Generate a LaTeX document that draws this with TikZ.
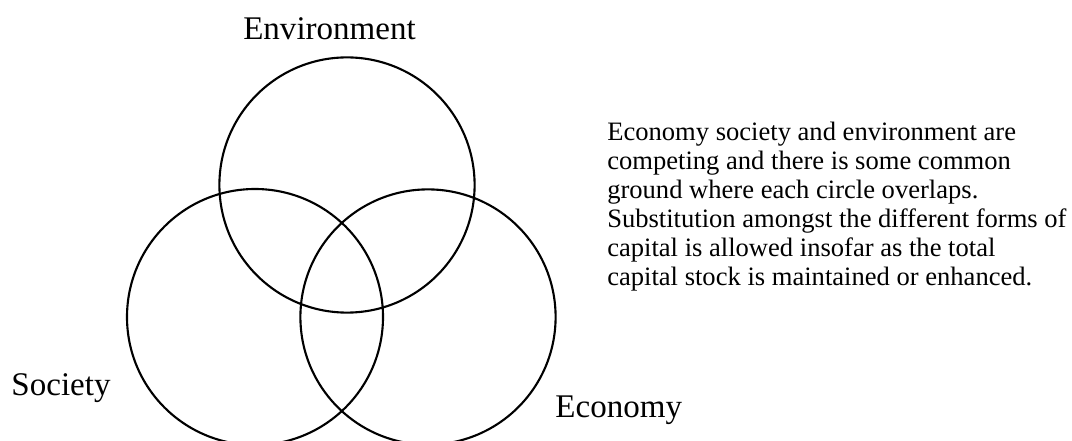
\documentclass[tikz,border=0pt]{standalone}
\usepackage{fontspec}
\setmainfont{Liberation Serif}

\begin{document}
\begin{tikzpicture}[
    ring/.style={line width=1.5pt},
    lbl/.style={font=\fontsize{23.5}{28}\selectfont, inner sep=0pt, anchor=base west},
    note/.style={font=\fontsize{18.9}{20.7}\selectfont, inner sep=0pt, align=left, anchor=north west}
]
        \useasboundingbox (0,0) rectangle (26.8,11);

        \coordinate (E) at (8.675,6.375);
        \coordinate (S) at (6.375,3.075);
        \coordinate (C) at (10.7,3.075);

        \draw[ring] (E) circle (3.19);
        \draw[ring] (S) circle (3.2);
        \draw[ring] (C) circle (3.19);

        %
        \node[lbl] (env) at (6.075,10.0) {Environment};
        \node[lbl] (soc) at (0.28,1.125) {Society};
        \node[lbl] (eco) at (13.88,0.575) {Economy};

        \node[note] (txt) at (15.175,7.96) {Economy society and environment are\\
            competing and there is some common\\
            ground where each circle overlaps.\\
            Substitution amongst the different forms of\\
            capital is allowed insofar as the total\\
            capital stock is maintained or enhanced.};
    \end{tikzpicture}
\end{document}
